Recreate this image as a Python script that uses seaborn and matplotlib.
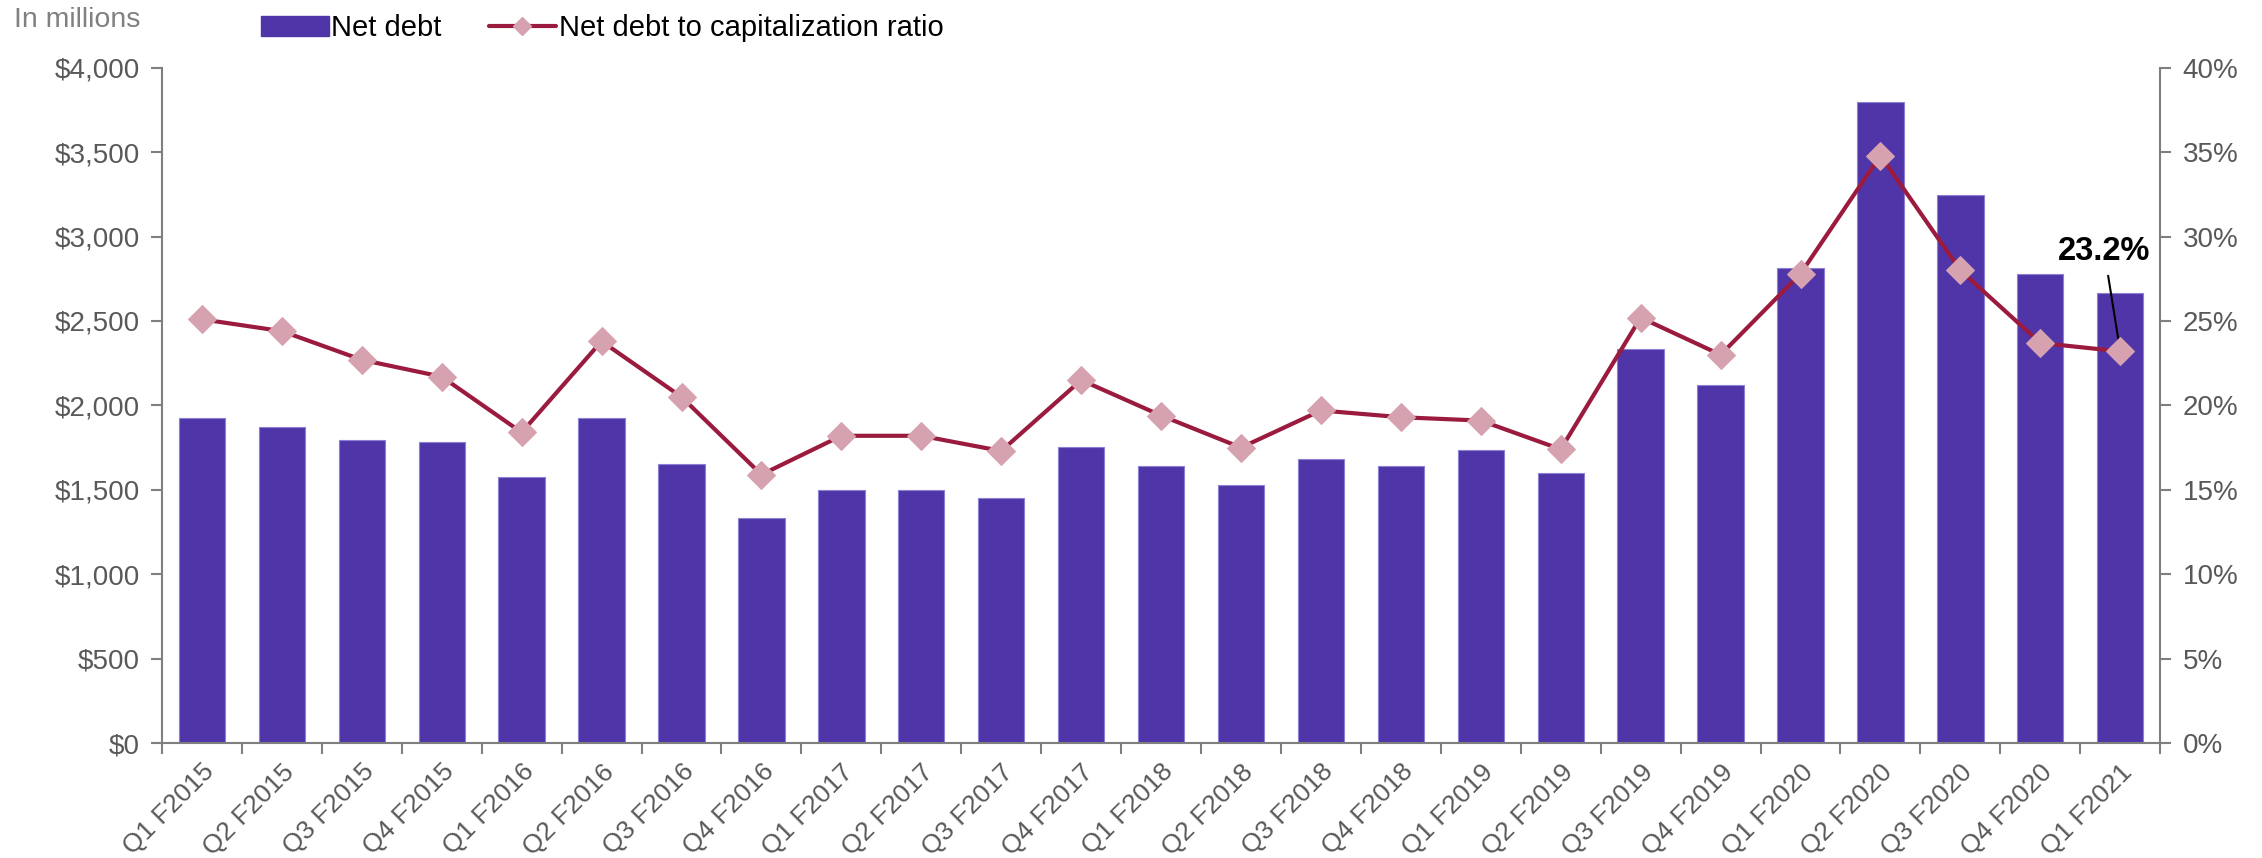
import numpy as np
import pandas as pd
import matplotlib
matplotlib.use("Agg")
import matplotlib.pyplot as plt
import seaborn as sns
from matplotlib.lines import Line2D
from matplotlib.patches import Patch
from matplotlib.ticker import FuncFormatter, MultipleLocator, FixedLocator

quarters = ["Q1 F2015", "Q2 F2015", "Q3 F2015", "Q4 F2015",
            "Q1 F2016", "Q2 F2016", "Q3 F2016", "Q4 F2016",
            "Q1 F2017", "Q2 F2017", "Q3 F2017", "Q4 F2017",
            "Q1 F2018", "Q2 F2018", "Q3 F2018", "Q4 F2018",
            "Q1 F2019", "Q2 F2019", "Q3 F2019", "Q4 F2019",
            "Q1 F2020", "Q2 F2020", "Q3 F2020", "Q4 F2020",
            "Q1 F2021"]
net_debt = [1923, 1872, 1795, 1786, 1573, 1923, 1650, 1333, 1496, 1496,
            1453, 1752, 1641, 1530, 1684, 1641, 1735, 1598, 2333, 2120,
            2812, 3795, 3248, 2778, 2667]
ratio = [25.1, 24.4, 22.7, 21.7, 18.4, 23.8, 20.5, 15.9, 18.2, 18.2,
         17.3, 21.5, 19.4, 17.5, 19.7, 19.3, 19.1, 17.4, 25.2, 23.0,
         27.8, 34.8, 28.0, 23.7, 23.2]
bar_label = "Net debt"
line_label = "Net debt to capitalization ratio"
unit_label = "In millions"
annot_text = "23.2%"

sns.set_theme(style="white")
plt.rcParams["font.family"] = ["Liberation Sans", "DejaVu Sans"]

BAR = "#5035A9"
LINE = "#9B1B3F"
MARK = "#D6A2B0"
GREY = "#595959"
SPINE = "#7F7F7F"

df = pd.DataFrame({"quarter": quarters, "net_debt": net_debt, "ratio": ratio})
df["pos"] = np.arange(len(df))

fig = plt.figure(figsize=(22.62, 8.58), dpi=100)
ax = fig.add_axes([0.0716, 0.134, 0.8834, 0.787])

sns.barplot(data=df, x="quarter", y="net_debt", ax=ax, color=BAR, width=0.58,
            saturation=1, edgecolor="#8C80D2", linewidth=0.8)
ax.set_xlim(-0.5, len(df) - 0.5)
ax.set_ylim(0, 4000)
ax.yaxis.set_major_locator(MultipleLocator(500))
ax.yaxis.set_major_formatter(FuncFormatter(lambda v, p: f"${v:,.0f}"))
ax.set_xlabel("")
ax.set_ylabel("")

ax2 = ax.twinx()
sns.lineplot(data=df, x="pos", y="ratio", ax=ax2, color=LINE, linewidth=3,
             marker="D", markersize=14, markerfacecolor=MARK,
             markeredgecolor=MARK, zorder=5)
ax2.set_ylim(0, 40)
ax2.yaxis.set_major_locator(MultipleLocator(5))
ax2.yaxis.set_major_formatter(FuncFormatter(lambda v, p: f"{v:.0f}%"))
ax2.set_xlabel("")
ax2.set_ylabel("")
ax2.set_xlim(-0.5, len(df) - 0.5)

# spines
for a in (ax, ax2):
    a.spines["top"].set_visible(False)
    for s in ("left", "right", "bottom"):
        a.spines[s].set_color(SPINE)
        a.spines[s].set_linewidth(1.5)
ax.spines["right"].set_visible(False)
ax2.spines["left"].set_visible(False)
ax2.spines["bottom"].set_visible(False)

# ticks
ax.tick_params(axis="y", which="major", direction="out", length=8, width=1.5,
               color=SPINE, labelsize=20, labelcolor=GREY, pad=8, left=True)
ax2.tick_params(axis="y", which="major", direction="out", length=8, width=1.5,
                color=SPINE, labelsize=20, labelcolor=GREY, pad=8, right=True)
ax.xaxis.set_major_locator(FixedLocator(np.arange(len(df))))
ax.set_xticklabels(quarters, rotation=45, ha="right", rotation_mode="anchor")
ax.xaxis.set_minor_locator(FixedLocator(np.arange(len(df) + 1) - 0.5))
ax.tick_params(axis="x", which="major", length=0, labelsize=19,
               labelcolor=GREY, pad=12)
ax.tick_params(axis="x", which="minor", direction="out", length=8, width=1.5,
               color=SPINE, bottom=True)

# annotation
ax2.annotate(annot_text, xy=(df["pos"].iloc[-1], ratio[-1]),
             xytext=(df["pos"].iloc[-1] - 0.2, 28.2),
             ha="center", va="bottom", fontsize=23.5, fontweight="bold",
             color="black",
             arrowprops=dict(arrowstyle="-", color="black", lw=1.5,
                             shrinkA=4, shrinkB=2))

# legend
handles = [Patch(facecolor=BAR, edgecolor=BAR, label=bar_label),
           Line2D([0], [0], color=LINE, linewidth=3, marker="D", markersize=9,
                  markerfacecolor=MARK, markeredgecolor=MARK, label=line_label)]
fig.legend(handles=handles, loc="upper left", bbox_to_anchor=(0.104, 1.014),
           ncol=2, frameon=False, fontsize=21, handlelength=2.3,
           handletextpad=0.1, columnspacing=1.6, labelcolor="black")

fig.text(0.006, 0.977, unit_label, fontsize=20.5, color="#808080",
         ha="left", va="center")

fig.savefig("out.png", dpi=100)
